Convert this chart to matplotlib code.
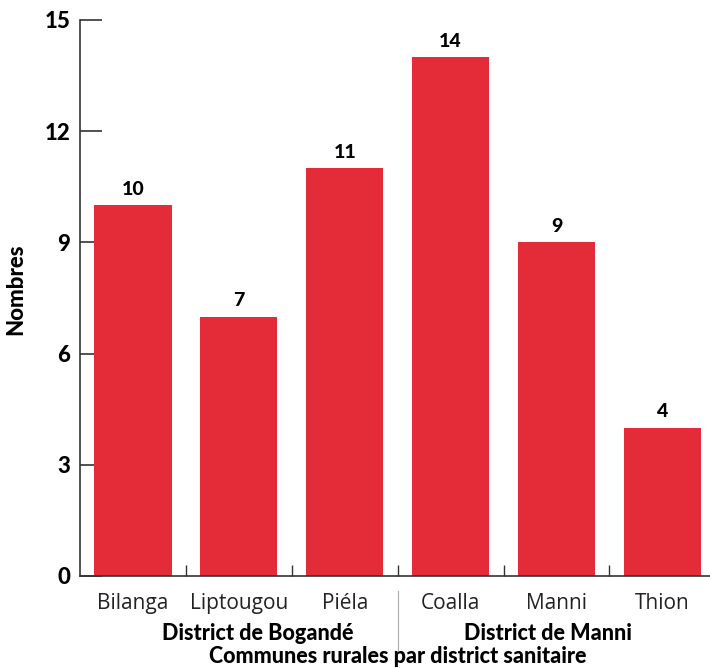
import numpy as np
import matplotlib.pyplot as plt

communes = ["Bilanga", "Liptougou", "Piéla", "Coalla", "Manni", "Thion"]
nombres = [10, 7, 11, 14, 9, 4]
districts = ["District de Bogandé", "District de Manni"]
district_pos = [1.18, 3.92]
yticks = [0, 3, 6, 9, 12, 15]

bar_color = "#e42c38"
bold_font = ["Lato", "DejaVu Sans"]
plain_font = ["Open Sans", "DejaVu Sans"]

fig = plt.figure(figsize=(7.10, 6.68), dpi=100)
ax = fig.add_axes([80 / 710, 92 / 668, 630 / 710, 556 / 668])

x = np.arange(len(communes))
ax.bar(x, nombres, width=0.73, color=bar_color, zorder=2)

# values above each bar
for xi, v in zip(x, nombres):
    ax.text(xi, v + 0.2, str(v), ha="center", va="bottom",
            fontsize=14, fontweight="black", family=bold_font)

ax.set_xlim(-0.5, len(communes) - 0.55)
ax.set_ylim(0, 15)

for side in ["top", "right"]:
    ax.spines[side].set_visible(False)
for side in ["left", "bottom"]:
    ax.spines[side].set_color("#333333")
    ax.spines[side].set_linewidth(1.2)

ax.set_yticks(yticks)
ax.set_yticklabels([str(t) for t in yticks], fontsize=16,
                   fontweight="black", family=bold_font)
ax.tick_params(axis="y", direction="in", length=16, width=1.2,
               color="#333333", pad=7)

# category names, tick marks at the boundaries between bars
ax.set_xticks(x)
ax.set_xticklabels(communes, fontsize=15, family=plain_font, color="#222222")
ax.tick_params(axis="x", which="major", length=0, pad=12)
ax.set_xticks(x[:-1] + 0.5, minor=True)
ax.tick_params(axis="x", which="minor", direction="in", length=8,
               width=1.0, color="#333333")

# district groups below the commune names
for name, pos in zip(districts, district_pos):
    ax.text(pos, -1.55, name, ha="center", va="center",
            fontsize=15.5, fontweight="black", family=bold_font,
            clip_on=False)
ax.plot([2.5, 2.5], [-0.4, -2.05], color="#aaaaaa", lw=0.8, clip_on=False)

ax.text(2.5, -2.17, "Communes rurales par district sanitaire", ha="center",
        va="center", fontsize=15.5, fontweight="black", family=bold_font,
        clip_on=False)

ax.set_ylabel("Nombres", fontsize=16, fontweight="black", family=bold_font)
ax.yaxis.set_label_coords(-0.085, 0.515)

fig.savefig("out.png", dpi=100)
